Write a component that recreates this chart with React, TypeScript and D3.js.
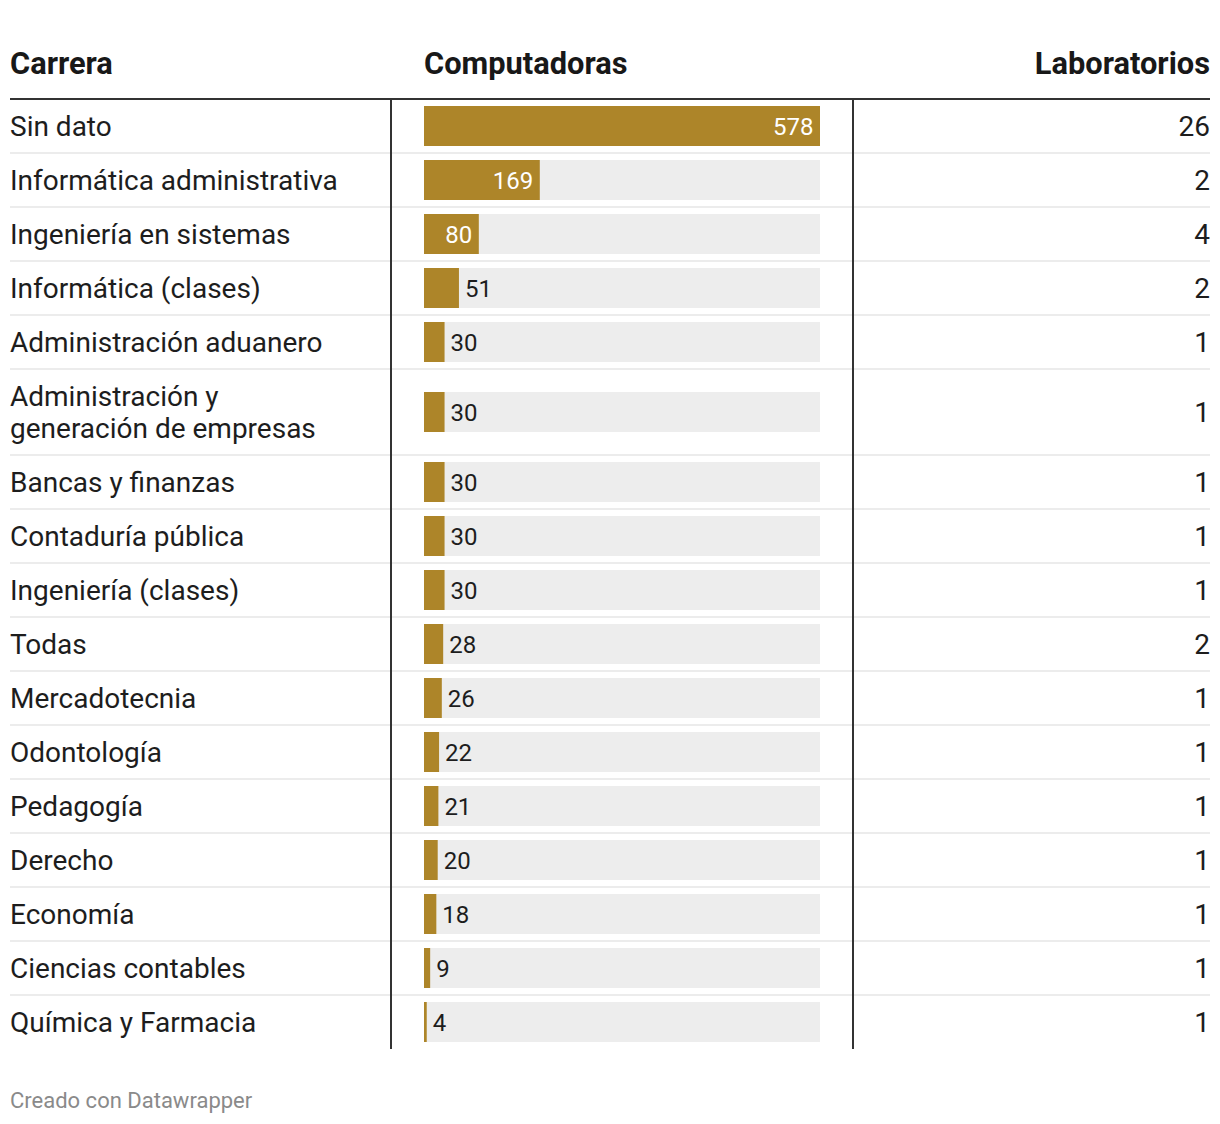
import React from "react";
import * as d3 from "d3";

const carreras = [
  "Sin dato",
  "Informática administrativa",
  "Ingeniería en sistemas",
  "Informática (clases)",
  "Administración aduanero",
  "Administración y\ngeneración de empresas",
  "Bancas y finanzas",
  "Contaduría pública",
  "Ingeniería (clases)",
  "Todas",
  "Mercadotecnia",
  "Odontología",
  "Pedagogía",
  "Derecho",
  "Economía",
  "Ciencias contables",
  "Química y Farmacia",
];
const computadoras = [578, 169, 80, 51, 30, 30, 30, 30, 30, 28, 26, 22, 21, 20, 18, 9, 4];
const laboratorios = [26, 2, 4, 2, 1, 1, 1, 1, 1, 2, 1, 1, 1, 1, 1, 1, 1];
const headers = ["Carrera", "Computadoras", "Laboratorios"];
const footer = "Creado con Datawrapper";

const W = 1220;
const H = 1124;
const left = 10;
const right = 1210;
const headerLineY = 99;
const rowBase = 54;
const lineH = 32;
const col1X = 391;
const col2X = 853;
const barX0 = 424;
const barX1 = 820;
const barH = 40;
const gold = "#ad8529";
const font = "Roboto, 'Noto Sans', sans-serif";

export default function App() {
  const lines = carreras.map((c) => c.split("\n"));
  const heights = lines.map((l) => rowBase + (l.length - 1) * lineH);
  const bounds: number[] = [headerLineY];
  heights.forEach((h, i) => bounds.push(bounds[i] + h));
  const tableEnd = bounds[bounds.length - 1];

  const x = d3.scaleLinear().domain([0, d3.max(computadoras) as number]).range([0, barX1 - barX0]);
  const charW = 14;

  return (
    <svg width={W} height={H} style={{ position: "absolute", left: 0, top: 0, display: "block" }}>
      <rect width={W} height={H} fill="#fff" />
      {/* headers */}
      <text x={left} y={74} fontFamily={font} fontWeight={700} fontSize={30.8} fill="#181818">{headers[0]}</text>
      <text x={barX0} y={74} fontFamily={font} fontWeight={700} fontSize={30.8} fill="#181818">{headers[1]}</text>
      <text x={right} y={74} textAnchor="end" fontFamily={font} fontWeight={700} fontSize={30.8} fill="#181818">{headers[2]}</text>

      {/* row separators */}
      {bounds.slice(1, -1).map((b, i) => (
        <line key={"s" + i} x1={left} x2={right} y1={b} y2={b} stroke="#ececec" strokeWidth={2} />
      ))}

      {carreras.map((c, i) => {
        const top = bounds[i];
        const bottom = bounds[i + 1];
        const cy = (top + bottom) / 2;
        const ls = lines[i];
        const v = computadoras[i];
        const bw = x(v);
        const label = String(v);
        const tw = label.length * charW;
        const inside = bw > tw + 14;
        return (
          <g key={"r" + i}>
            {ls.map((t, j) => (
              <text
                key={j}
                x={left}
                y={cy + 10 + (j - (ls.length - 1) / 2) * lineH}
                fontFamily={font}
                fontSize={28}
                fill="#1d1d1d"
              >
                {t}
              </text>
            ))}
            <rect x={barX0} y={cy - barH / 2} width={barX1 - barX0} height={barH} fill="#ededed" />
            <rect x={barX0} y={cy - barH / 2} width={bw} height={barH} fill={gold} />
            <text
              x={inside ? barX0 + bw - 6.5 : barX0 + bw + 6}
              y={cy + 8.5}
              textAnchor={inside ? "end" : "start"}
              fontFamily={font}
              fontSize={24}
              fill={inside ? "#ffffff" : "#1d1d1d"}
            >
              {label}
            </text>
            <text x={right} y={cy + 10} textAnchor="end" fontFamily={font} fontSize={28} fill="#1d1d1d">
              {laboratorios[i]}
            </text>
          </g>
        );
      })}

      {/* header line */}
      <line x1={left} x2={right} y1={headerLineY} y2={headerLineY} stroke="#333" strokeWidth={2} />
      {/* vertical column lines */}
      <line x1={col1X} x2={col1X} y1={headerLineY} y2={tableEnd} stroke="#333" strokeWidth={2} />
      <line x1={col2X} x2={col2X} y1={headerLineY} y2={tableEnd} stroke="#333" strokeWidth={2} />

      <text x={left} y={1108} fontFamily={font} fontSize={22} fill="#8a8a8a">{footer}</text>
    </svg>
  );
}
